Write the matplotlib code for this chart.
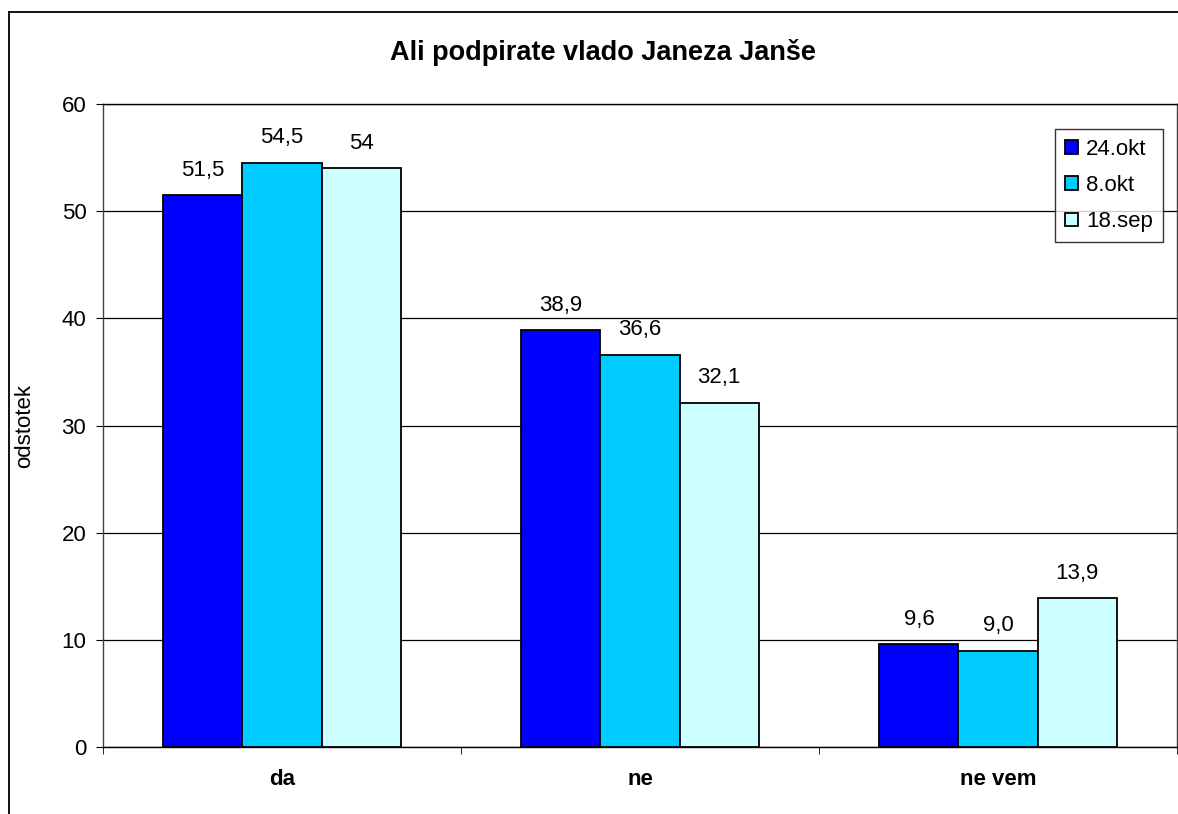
import numpy as np
import matplotlib.pyplot as plt
from matplotlib.lines import Line2D

plt.rcParams['font.family'] = ['Liberation Sans', 'DejaVu Sans']

# Survey answers and results per poll date
categories = ['da', 'ne', 'ne vem']
series_names = ['24.okt', '8.okt', '18.sep']
values_24okt = [51.5, 38.9, 9.6]
values_8okt = [54.5, 36.6, 9.0]
values_18sep = [54.0, 32.1, 13.9]
labels_24okt = ['51,5', '38,9', '9,6']
labels_8okt = ['54,5', '36,6', '9,0']
labels_18sep = ['54', '32,1', '13,9']
colors = ['#0000FF', '#00CCFF', '#CCFFFF']

title = 'Ali podpirate vlado Janeza Janše'
y_label = 'odstotek'


def draw_chart():
    fig = plt.figure(figsize=(11.78, 8.14), dpi=100)
    W, H = 1178, 814
    ax = fig.add_axes([103 / W, 1 - 747 / H, 1074 / W, 643 / H])

    x = np.arange(len(categories))
    width = 0.221
    all_values = [values_24okt, values_8okt, values_18sep]
    all_labels = [labels_24okt, labels_8okt, labels_18sep]
    for i, (vals, labs) in enumerate(zip(all_values, all_labels)):
        pos = x + (i - 1) * width
        ax.bar(pos, vals, width, color=colors[i], edgecolor='black',
               linewidth=1.3, label=series_names[i], zorder=3)
        for px, v, lab in zip(pos, vals, labs):
            ax.annotate(lab, (px, v), xytext=(0, 18), textcoords='offset points',
                        ha='center', va='center', fontsize=16)

    ax.set_xlim(-0.5, 2.5)
    ax.set_ylim(0, 60)
    ax.set_yticks(np.arange(0, 61, 10))
    ax.grid(axis='y', color='black', linewidth=0.9, zorder=0)
    ax.tick_params(axis='y', direction='out', length=5, pad=7, labelsize=16)
    ax.set_xticks(x)
    ax.set_xticklabels(categories, fontsize=16, fontweight='bold')
    ax.tick_params(axis='x', which='major', length=0, pad=16)
    ax.set_xticks([-0.5, 0.5, 1.5, 2.5], minor=True)
    ax.tick_params(axis='x', which='minor', direction='out', length=5)
    for sp in ax.spines.values():
        sp.set_linewidth(1.0)
    ax.spines['left'].set_color('#404040')
    ax.spines['right'].set_color('#404040')

    ax.set_ylabel(y_label, fontsize=16)
    ax.yaxis.set_label_coords((35 - 103) / 1074, 0.5)

    leg = ax.legend(loc='upper right', bbox_to_anchor=(0.987, 0.961),
                    fontsize=16, frameon=True, fancybox=False, shadow=False,
                    handlelength=0.58, handleheight=0.58, handletextpad=0.35,
                    labelspacing=0.68, borderpad=0.45, borderaxespad=0)
    leg.get_frame().set_edgecolor('black')
    leg.get_frame().set_linewidth(1.0)

    fig.text(603 / W, 1 - 52 / H, title, ha='center', va='center',
             fontsize=19.5, fontweight='bold')

    # outer chart frame (cropped on right and bottom)
    fig.add_artist(Line2D([9 / W, 9 / W], [0, 1 - 12 / H], color='black',
                          linewidth=1.3, transform=fig.transFigure))
    fig.add_artist(Line2D([9 / W, 1], [1 - 12 / H, 1 - 12 / H], color='black',
                          linewidth=1.3, transform=fig.transFigure))

    fig.savefig('out.png', dpi=100)


if __name__ == '__main__':
    draw_chart()
